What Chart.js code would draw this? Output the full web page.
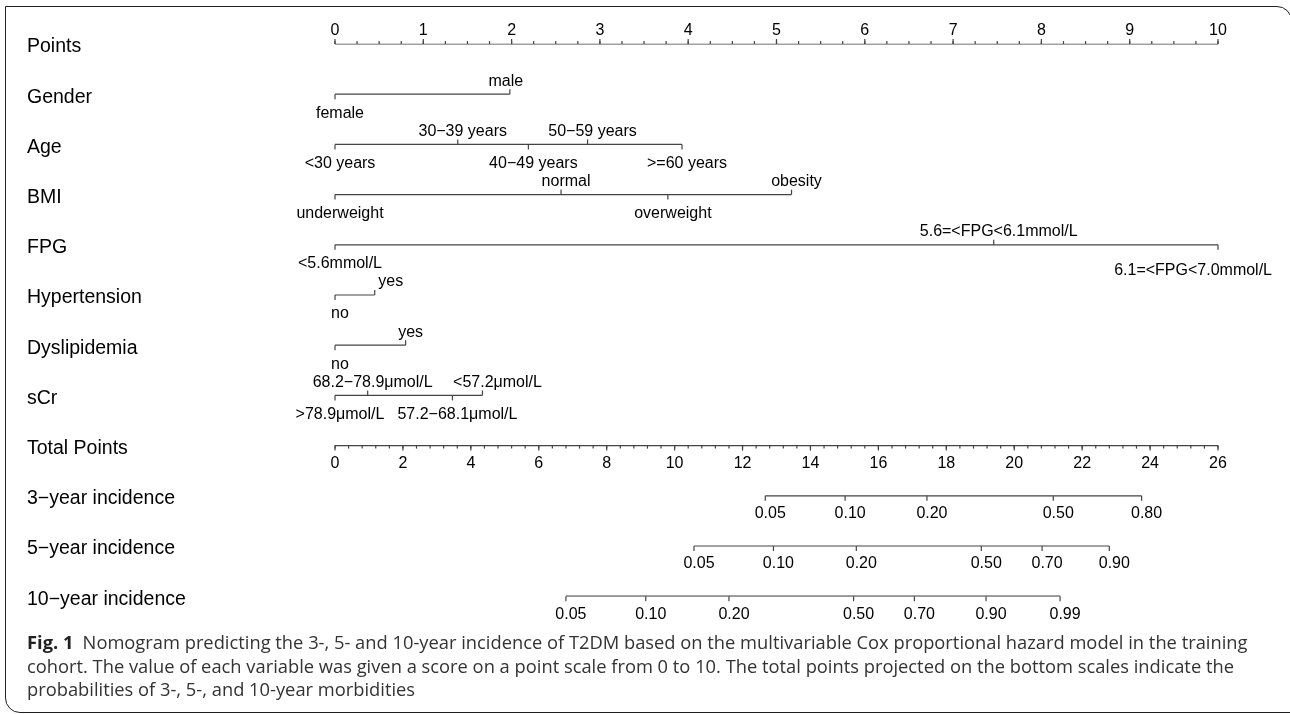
<!DOCTYPE html>
<html>
<head>
<meta charset="utf-8">
<title>Nomogram T2DM</title>
<script src="https://cdn.jsdelivr.net/npm/chart.js@4.4.1/dist/chart.umd.min.js"></script>
<style>
  html, body { margin: 0; padding: 0; background: #fff; overflow: hidden; }
  #wrap { position: relative; width: 1290px; height: 714px; overflow: hidden; }
  #chartBox { position: absolute; left: 0; top: 0; width: 1290px; height: 714px; }
  #frame {
    position: absolute; left: 5px; top: 6px; width: 1287px; height: 707px;
    box-sizing: border-box; border: 1.5px solid #231f20; border-radius: 0 15px 0 15px;
  }
  #caption {
    position: absolute; left: 27px; top: 630px; color: #333;
    font-family: 'Open Sans', 'Noto Sans', sans-serif; font-size: 16px; line-height: 23.5px;
    white-space: nowrap;
  }
  #caption b { font-weight: 700; color: #231f20; }
</style>
</head>
<body>
<div id="wrap">
  <div id="frame"></div>
  <div id="chartBox"><canvas id="nomo"></canvas></div>
  <div id="caption">
    <div id="capLine1"><b>Fig. 1</b>&ensp;Nomogram predicting the 3-, 5- and 10-year incidence of T2DM based on the multivariable Cox proportional hazard model in the training</div>
    <div>cohort. The value of each variable was given a score on a point scale from 0 to 10. The total points projected on the bottom scales indicate the</div>
    <div>probabilities of 3-, 5-, and 10-year morbidities</div>
  </div>
</div>
<script>
// rows of the nomogram, top to bottom
const rowNames = ['Points', 'Gender', 'Age', 'BMI', 'FPG', 'Hypertension', 'Dyslipidemia', 'sCr',
  'Total Points', '3−year incidence', '5−year incidence', '10−year incidence'];

const pointTicks = [0, 1, 2, 3, 4, 5, 6, 7, 8, 9, 10];
const totalTicks = [0, 2, 4, 6, 8, 10, 12, 14, 16, 18, 20, 22, 24, 26];
const pointMinorStep = 0.25;
const totalMinorStep = 0.4;

const genderLevels = ['female', 'male'];
const genderPoints = [0, 1.98];

const ageLevels = ['<30 years', '30−39 years', '40−49 years', '50−59 years', '>=60 years'];
const agePoints = [0, 1.39, 2.19, 2.86, 3.93];

const bmiLevels = ['underweight', 'normal', 'overweight', 'obesity'];
const bmiPoints = [0, 2.56, 3.77, 5.17];

const fpgLevels = ['<5.6mmol/L', '5.6=<FPG<6.1mmol/L', '6.1=<FPG<7.0mmol/L'];
const fpgPoints = [0, 7.46, 10];

const htnLevels = ['no', 'yes'];
const htnPoints = [0, 0.45];

const dysLevels = ['no', 'yes'];
const dysPoints = [0, 0.80];

const scrLevels = ['>78.9μmol/L', '68.2−78.9μmol/L', '57.2−68.1μmol/L', '<57.2μmol/L'];
const scrPoints = [0, 0.37, 1.33, 1.67];

// probability scales, positions in total points
const inc3Labels = ['0.05', '0.10', '0.20', '0.50', '0.80'];
const inc3Total = [12.67, 15.02, 17.43, 21.15, 23.75];

const inc5Labels = ['0.05', '0.10', '0.20', '0.50', '0.70', '0.90'];
const inc5Total = [10.57, 12.91, 15.35, 19.03, 20.82, 22.8];

const inc10Labels = ['0.05', '0.10', '0.20', '0.50', '0.70', '0.90', '0.99'];
const inc10Total = [6.80, 9.15, 11.60, 15.27, 17.06, 19.17, 21.35];

const FONT = "'Liberation Sans', Arial, Helvetica, sans-serif";
const LINE = '#444444';
const TEXT = '#000000';

function rowData(row, labels, values) {
  return values.map((v, i) => ({ x: v, y: row, text: labels[i] }))
    .sort((a, b) => a.x - b.x);
}

function makeSet(row, labels, values, axis, kind, minorStep) {
  return {
    row: row,
    kind: kind,
    minorStep: minorStep,
    xAxisID: axis,
    data: rowData(row, labels, values),
    showLine: true,
    borderColor: LINE,
    borderWidth: 1.2,
    pointRadius: 0,
    pointHoverRadius: 0
  };
}

const datasets = [
  makeSet('Points', pointTicks.map(String), pointTicks, 'x', 'points', pointMinorStep),
  makeSet('Gender', genderLevels, genderPoints, 'x', 'var'),
  makeSet('Age', ageLevels, agePoints, 'x', 'var'),
  makeSet('BMI', bmiLevels, bmiPoints, 'x', 'var'),
  makeSet('FPG', fpgLevels, fpgPoints, 'x', 'var'),
  makeSet('Hypertension', htnLevels, htnPoints, 'x', 'var'),
  makeSet('Dyslipidemia', dysLevels, dysPoints, 'x', 'var'),
  makeSet('sCr', scrLevels, scrPoints, 'x', 'var'),
  makeSet('Total Points', totalTicks.map(String), totalTicks, 'xt', 'total', totalMinorStep),
  makeSet('3−year incidence', inc3Labels, inc3Total, 'xt', 'prob'),
  makeSet('5−year incidence', inc5Labels, inc5Total, 'xt', 'prob'),
  makeSet('10−year incidence', inc10Labels, inc10Total, 'xt', 'prob')
];

// small hand nudges so labels sit like in the printed figure
const labelNudge = {
  'Gender|male': [-9, 0],
  'Hypertension|yes': [11, 0],
  'sCr|<57.2μmol/L': [10, 0],
  'FPG|6.1=<FPG<7.0mmol/L': [0, 7]
};

const nomogramPlugin = {
  id: 'nomogram',
  afterDatasetsDraw(chart) {
    const ctx = chart.ctx;
    ctx.save();
    ctx.strokeStyle = LINE;
    ctx.lineWidth = 1.2;
    ctx.fillStyle = TEXT;
    ctx.font = '16px ' + FONT;
    ctx.textAlign = 'center';
    ctx.textBaseline = 'middle';

    function tick(x, y, len) {
      ctx.beginPath();
      ctx.moveTo(x, y);
      ctx.lineTo(x, y + len);
      ctx.stroke();
    }

    chart.data.datasets.forEach((ds, i) => {
      const meta = chart.getDatasetMeta(i);
      const scale = chart.scales[ds.xAxisID];

      if (ds.kind === 'points' || ds.kind === 'total') {
        const dir = ds.kind === 'points' ? -1 : 1;
        const y0 = meta.data[0].y;
        for (let v = scale.min; v <= scale.max + 1e-9; v += ds.minorStep) {
          tick(scale.getPixelForValue(v), y0, dir * 3);
        }
        meta.data.forEach((pt, j) => {
          tick(pt.x, pt.y, dir * 5);
          ctx.fillText(ds.data[j].text, pt.x, pt.y + (dir < 0 ? -13 : 18));
        });
      } else if (ds.kind === 'prob') {
        meta.data.forEach((pt, j) => {
          tick(pt.x, pt.y, 5);
          ctx.fillText(ds.data[j].text, pt.x + 5, pt.y + 18);
        });
      } else {
        meta.data.forEach((pt, j) => {
          const above = j % 2 === 1;
          tick(pt.x, pt.y, above ? -5 : 5);
          const txt = ds.data[j].text;
          const nudge = labelNudge[ds.row + '|' + txt] || [0, 0];
          let x = pt.x + 5 + nudge[0];
          const w = ctx.measureText(txt).width;
          if (x + w / 2 > 1272) x = 1272 - w / 2;
          const y = pt.y + (above ? -13 : 19) + nudge[1];
          ctx.fillText(txt, x, y);
        });
      }
    });
    ctx.restore();
  }
};

new Chart(document.getElementById('nomo'), {
  type: 'scatter',
  data: { datasets: datasets },
  options: {
    responsive: true,
    maintainAspectRatio: false,
    animation: false,
    layout: { padding: { left: 27, right: 72, top: 44, bottom: 117.8 } },
    plugins: { legend: { display: false }, tooltip: { enabled: false } },
    scales: {
      x: { type: 'linear', min: 0, max: 10, display: false },
      xt: { type: 'linear', axis: 'x', min: 0, max: 26, display: false },
      y: {
        type: 'category',
        labels: rowNames,
        offset: false,
        grid: { display: false },
        border: { display: false },
        ticks: {
          font: { family: FONT, size: 19.5 },
          color: TEXT,
          crossAlign: 'far',
          padding: 0,
          autoSkip: false,
          labelOffset: 3
        },
        afterFit(scale) { scale.width = 308; }
      }
    }
  },
  plugins: [nomogramPlugin]
});

// fit caption width to the printed one
const capLine1 = document.getElementById('capLine1');
const w1 = capLine1.getBoundingClientRect().width;
const cap = document.getElementById('caption');
cap.style.fontSize = (16 * 1221 / w1).toFixed(2) + 'px';
</script>
</body>
</html>
